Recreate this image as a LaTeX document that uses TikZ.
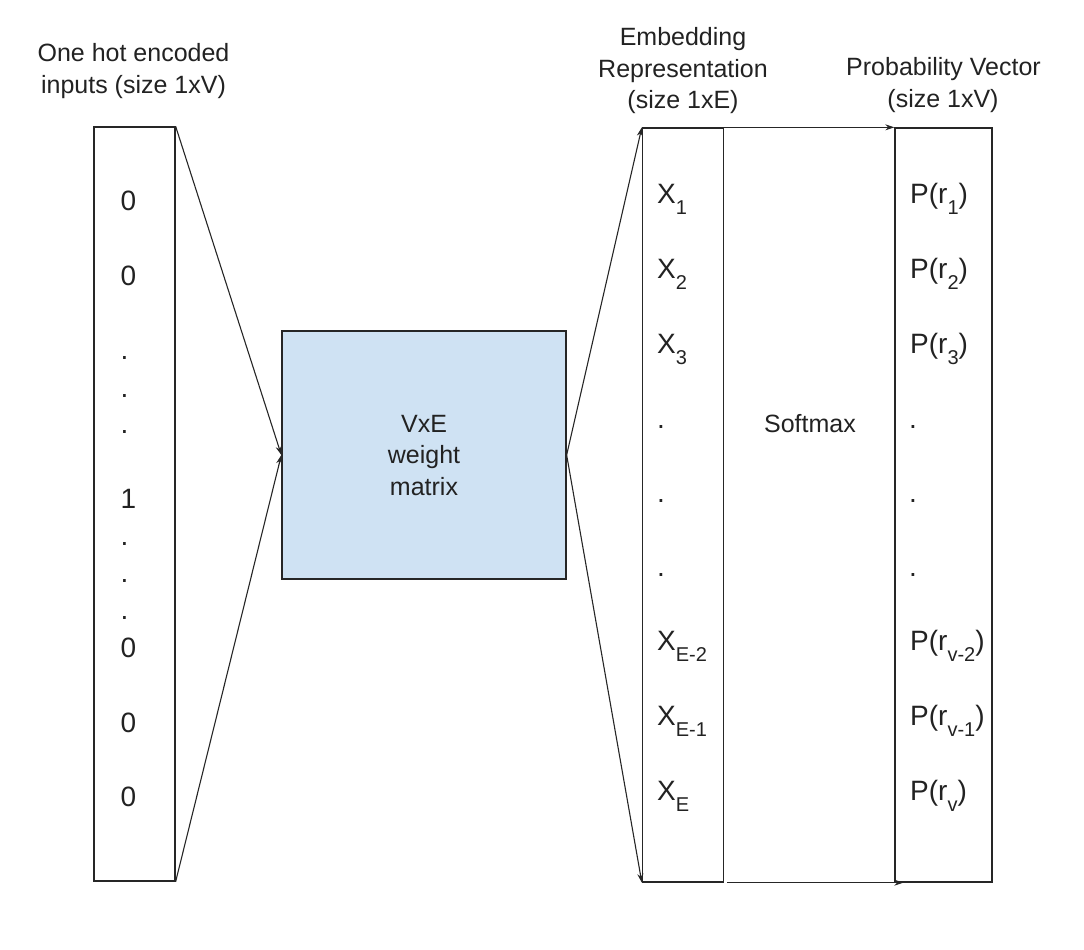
\documentclass[tikz,border=0pt]{standalone}
\usepackage{fontspec}
\setmainfont{Liberation Sans}
\usetikzlibrary{arrows.meta}
\newcommand\mysubx[1]{\raisebox{-11pt}{\fontsize{20}{20}\selectfont #1}}
\definecolor{wmblue}{HTML}{CFE2F3}
\definecolor{ink}{HTML}{222222}
\begin{document}
\begin{tikzpicture}[x=1pt,y=-1pt,
  boxline/.style={draw=black!85, line width=1.3pt},
  colbox/.style={boxline, rectangle, inner sep=0pt, minimum width=#1, minimum height=754pt},
  conn/.style={line width=1.1pt, draw=black!85, -{Stealth[length=9pt,width=6pt]}},
  hdr/.style={font=\fontsize{25}{25}\selectfont, text=ink, inner sep=0pt, anchor=base},
  cellw/.style={font=\fontsize{28}{28}\selectfont, text=ink, inner sep=0pt, anchor=base west},
  cellc/.style={font=\fontsize{28}{28}\selectfont, text=ink, inner sep=0pt, anchor=base},
  midtxt/.style={font=\fontsize{25}{25}\selectfont, text=ink, inner sep=0pt, anchor=base}]
\useasboundingbox (0,0) rectangle (1084,950);

% boxes
\node[colbox=81pt] (inp) at (134.5,504) {};
\node[boxline, fill=wmblue, rectangle, inner sep=0pt, minimum width=284pt, minimum height=248pt] (wm) at (424,455) {};
\node[colbox=81pt] (emb) at (683,505) {};
\node[colbox=97pt] (prob) at (943.5,505) {};

% headers
\node[hdr] (h1a) at (133.5,62) {One hot encoded};
\node[hdr] (h1b) at (133.5,93) {inputs (size 1xV)};
\node[hdr] (h2a) at (683,45.5) {Embedding};
\node[hdr] (h2b) at (683,77.5) {Representation};
\node[hdr] (h2c) at (683,108.3) {(size 1xE)};
\node[hdr] (h3a) at (943.5,76) {Probability Vector};
\node[hdr] (h3b) at (943,107.3) {(size 1xV)};

% weight matrix and softmax text
\node[midtxt] (wm1) at (424,432.3) {VxE};
\node[midtxt] (wm2) at (424,463.5) {weight};
\node[midtxt] (wm3) at (424,495) {matrix};
\node[midtxt] (smx) at (810,432.7) {Softmax};

% input column
\node[cellc] (i1) at (128.5,210) {0};
\node[cellc] (i2) at (128.5,285) {0};
\node[cellc] (i3) at (124.5,359) {.};
\node[cellc] (i4) at (124.5,397) {.};
\node[cellc] (i5) at (124.5,433) {.};
\node[cellc] (i6) at (128.5,508) {1};
\node[cellc] (i7) at (124.5,545) {.};
\node[cellc] (i8) at (124.5,582) {.};
\node[cellc] (i9) at (124.5,619) {.};
\node[cellc] (i10) at (128.5,657) {0};
\node[cellc] (i11) at (128.5,732) {0};
\node[cellc] (i12) at (128.5,806) {0};

% embedding column
\node[cellw] (e1) at (657,203) {X\mysubx{1}};
\node[cellw] (e2) at (657,278) {X\mysubx{2}};
\node[cellw] (e3) at (657,353) {X\mysubx{3}};
\node[cellc] (e4) at (661,428) {.};
\node[cellc] (e5) at (661,502) {.};
\node[cellc] (e6) at (661,576) {.};
\node[cellw] (e7) at (657,650) {X\mysubx{E-2}};
\node[cellw] (e8) at (657,725) {X\mysubx{E-1}};
\node[cellw] (e9) at (657,800) {X\mysubx{E}};

% probability column
\node[cellw] (p1) at (910,203) {P(r\mysubx{1})};
\node[cellw] (p2) at (910,278) {P(r\mysubx{2})};
\node[cellw] (p3) at (910,353) {P(r\mysubx{3})};
\node[cellc] (p4) at (913,428) {.};
\node[cellc] (p5) at (913,502) {.};
\node[cellc] (p6) at (913,576) {.};
\node[cellw] (p7) at (910,650) {P(r\mysubx{v-2})};
\node[cellw] (p8) at (910,725) {P(r\mysubx{v-1})};
\node[cellw] (p9) at (910,800) {P(r\mysubx{v})};

% connectors
\draw[conn] (inp.north east) -- (wm.west);
\draw[conn] (inp.south east) -- (wm.west);
\draw[conn] (wm.east) -- (emb.north west);
\draw[conn] (wm.east) -- (emb.south west);
\draw[conn] (emb.north east) -- (prob.north west);
\draw[conn, shorten >=-9pt] ([xshift=3pt]emb.south east) -- (prob.south west);
\end{tikzpicture}
\end{document}
